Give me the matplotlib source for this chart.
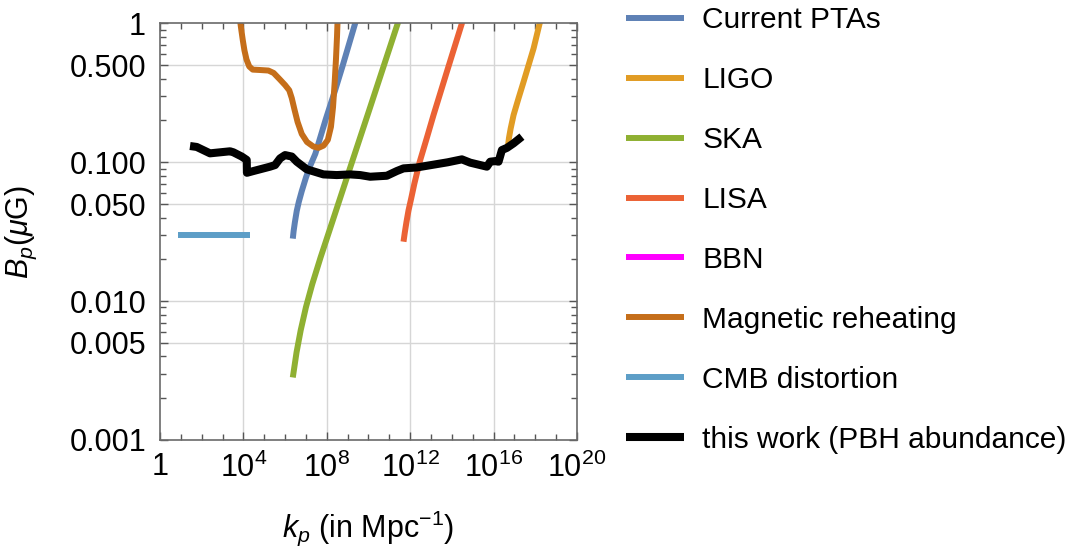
import numpy as np
import matplotlib
matplotlib.use("Agg")
import matplotlib.pyplot as plt
from matplotlib.ticker import FixedLocator, LogLocator, NullFormatter, FixedFormatter

plt.rcParams['font.family'] = ['Liberation Sans', 'DejaVu Sans']
plt.rcParams['mathtext.fontset'] = 'custom'
plt.rcParams['mathtext.rm'] = 'Liberation Sans'
plt.rcParams['mathtext.it'] = 'Liberation Sans:italic'

# curves: log10(k) and B in muG
pta_logk = [6.37, 6.41, 6.47, 6.56, 6.66, 6.8, 7.0, 7.2, 7.45, 7.95, 8.4, 8.77, 9.36, 9.5]
pta_B = [0.0282, 0.032, 0.037, 0.0447, 0.052, 0.062, 0.0776, 0.094, 0.115,
         0.204, 0.33, 0.501, 1.0, 1.17]

ligo_logk = [16.68, 16.74, 16.82, 16.96, 17.2, 17.44, 17.92, 18.21, 18.28]
ligo_B = [0.127, 0.15, 0.175, 0.219, 0.29, 0.380, 0.661, 1.0, 1.07]

ska_logk = [6.37, 6.55, 6.75, 7.0, 7.3, 7.7, 8.0, 8.64, 9.28, 10.0, 10.7, 11.44, 11.6]
ska_B = [0.00282, 0.00428, 0.00618, 0.00904, 0.0132, 0.0206, 0.0282, 0.0552,
         0.108, 0.229, 0.478, 1.04, 1.2]

lisa_logk = [11.68, 11.74, 11.82, 11.92, 12.05, 12.2, 12.45, 12.8, 13.12, 13.76,
             14.48, 14.6]
lisa_B = [0.0268, 0.031, 0.037, 0.045, 0.055, 0.07, 0.1, 0.15, 0.219, 0.449,
          1.0, 1.15]

bbn_logk = []
bbn_B = []

mag_logk = [3.84, 3.90, 3.97, 4.05, 4.15, 4.28, 4.45, 4.8, 5.2, 5.45, 5.75, 6.0,
            6.2, 6.32, 6.45, 6.6, 6.8, 7.05, 7.35, 7.6, 7.85, 8.05, 8.2, 8.3,
            8.38, 8.44, 8.49, 8.52]
mag_B = [1.05, 0.90, 0.76, 0.64, 0.55, 0.49, 0.465, 0.462, 0.458, 0.44, 0.395,
         0.36, 0.33, 0.29, 0.24, 0.195, 0.16, 0.14, 0.13, 0.127, 0.132, 0.145,
         0.18, 0.25, 0.38, 0.55, 0.8, 1.07]

cmb_logk = [0.86, 4.32]
cmb_B = [0.0298, 0.0298]

pbh_logk = [1.44, 1.76, 2.40, 3.36, 3.52, 3.92, 4.16, 4.17, 4.48, 5.28, 5.52,
            5.76, 6.00, 6.32, 6.56, 7.04, 7.84, 8.48, 9.12, 9.60, 10.08, 10.88,
            11.36, 11.68, 12.32, 13.8, 14.48, 14.88, 15.36, 15.68, 15.84, 16.08,
            16.24, 16.40, 16.64, 16.96, 17.36]
pbh_B = [0.131, 0.129, 0.116, 0.120, 0.118, 0.110, 0.104, 0.084, 0.0865, 0.093,
         0.0955, 0.1067, 0.1127, 0.110, 0.101, 0.089, 0.0818, 0.0809, 0.0818,
         0.0809, 0.0787, 0.080, 0.0865, 0.0904, 0.0918, 0.100, 0.105, 0.0994,
         0.0955, 0.093, 0.101, 0.102, 0.101, 0.1225, 0.127, 0.137, 0.153]

series = [
    ("Current PTAs", pta_logk, pta_B, "#5E81B5", 4.3),
    ("LIGO", ligo_logk, ligo_B, "#E19C24", 4.3),
    ("SKA", ska_logk, ska_B, "#8FB032", 4.3),
    ("LISA", lisa_logk, lisa_B, "#EB6235", 4.3),
    ("BBN", bbn_logk, bbn_B, "#FF00FF", 4.3),
    ("Magnetic reheating", mag_logk, mag_B, "#C56E1A", 4.3),
    ("CMB distortion", cmb_logk, cmb_B, "#5D9EC7", 4.3),
    ("this work (PBH abundance)", pbh_logk, pbh_B, "black", 5.8),
]

xtick_exp = [0, 4, 8, 12, 16, 20]
ytick_vals = [0.001, 0.005, 0.01, 0.05, 0.1, 0.5, 1]
ytick_labels = ["0.001", "0.005", "0.010", "0.050", "0.100", "0.500", "1"]

fig = plt.figure(figsize=(10.76, 5.57), dpi=100)
ax = fig.add_axes([0.1487, 0.2101, 0.3875, 0.7478])

handles = []
for name, lk, b, col, lw in series:
    k = 10.0 ** np.array(lk, dtype=float)
    h, = ax.plot(k, b, color=col, lw=lw, label=name,
                 solid_capstyle='butt', solid_joinstyle='round')
    handles.append(h)

ax.set_xscale('log')
ax.set_yscale('log')
ax.set_xlim(1, 1e20)
ax.set_ylim(0.001, 1)

ax.xaxis.set_major_locator(FixedLocator([10.0 ** e for e in xtick_exp]))
ax.xaxis.set_major_formatter(FixedFormatter(
    ["1" if e == 0 else r"$10^{%d}$" % e for e in xtick_exp]))
ax.xaxis.set_minor_locator(FixedLocator([10.0 ** e for e in range(21)]))
ax.xaxis.set_minor_formatter(NullFormatter())

ax.yaxis.set_major_locator(FixedLocator(ytick_vals))
ax.yaxis.set_major_formatter(FixedFormatter(ytick_labels))
ax.yaxis.set_minor_locator(LogLocator(base=10, subs=np.arange(1, 10), numticks=20))
ax.yaxis.set_minor_formatter(NullFormatter())

ax.tick_params(which='both', direction='in', top=True, right=True,
               color='#555555', labelsize=22, width=1.0)
ax.tick_params(which='major', length=6)
ax.tick_params(which='minor', length=4)
ax.tick_params(axis='x', pad=9)
ax.tick_params(axis='y', pad=10)

for s in ax.spines.values():
    s.set_color('#6a6a6a')
    s.set_linewidth(1.2)

for e in xtick_exp[1:-1]:
    ax.axvline(10.0 ** e, color='#d6d6d6', lw=1.0, zorder=0)
for v in ytick_vals[1:-1]:
    ax.axhline(v, color='#d6d6d6', lw=1.0, zorder=0)

ax.set_xlabel(r"$k_p$ (in Mpc$^{-1}$)", fontsize=22, labelpad=18)
ax.set_ylabel(r"$B_p$($\mu$G)", fontsize=22, labelpad=22)

fig.legend(handles=handles, loc='upper left', bbox_to_anchor=(0.582, 0.989),
           frameon=False, fontsize=21.5, handlelength=1.95, handletextpad=0.6,
           labelspacing=1.07, borderpad=0, borderaxespad=0)

fig.savefig("out.png", dpi=100)
